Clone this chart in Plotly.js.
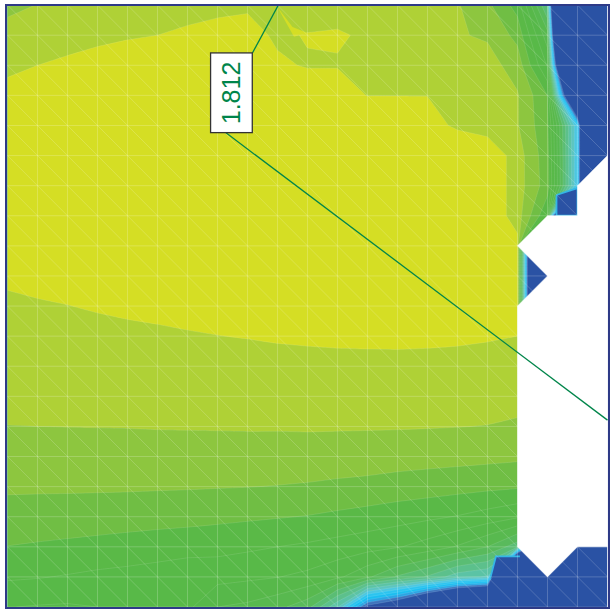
<!DOCTYPE html>
<html>
<head>
<meta charset="utf-8">
<script src="https://cdn.plot.ly/plotly-3.0.1.min.js"></script>
<style>html,body{margin:0;padding:0;background:#fff}#chart{width:610px;height:609px}</style>
</head>
<body>
<div id="chart"></div>
<script>
var gridIndex = [0,1,2,3,4,5,6,7,8,9,10,11,12,13,14,15,16,17,18,19,20];
var row00 = [1.68,1.715,1.72,1.74,1.75,1.77,1.785,1.795,1.805,1.80,1.78,1.80,1.76,1.75,1.74,1.72,1.635,1.47,0.9,-6,-6];
var row01 = [1.76,1.77,1.785,1.795,1.805,1.812,1.825,1.835,1.83,1.804,1.815,1.815,1.808,1.78,1.76,1.72,1.70,1.58,1.15,-5,-5];
var row02 = [1.80,1.812,1.825,1.84,1.85,1.86,1.865,1.87,1.87,1.82,1.808,1.81,1.80,1.78,1.77,1.76,1.75,1.67,1.30,-3,-5];
var row03 = [1.83,1.84,1.85,1.855,1.86,1.87,1.875,1.875,1.875,1.875,1.85,1.83,1.811,1.811,1.811,1.79,1.76,1.72,1.51,-1,-5];
var row04 = [1.85,1.855,1.86,1.865,1.87,1.875,1.88,1.88,1.885,1.885,1.88,1.87,1.86,1.855,1.84,1.80,1.76,1.72,1.53,0.5,-5];
var row05 = [1.86,1.865,1.87,1.875,1.88,1.885,1.89,1.89,1.89,1.89,1.89,1.89,1.885,1.885,1.88,1.88,1.90,1.76,1.55,0.5,-5];
var row06 = [1.87,1.87,1.875,1.88,1.885,1.89,1.895,1.895,1.90,1.90,1.90,1.90,1.90,1.90,1.895,1.895,1.90,1.76,1.56,0.5,-5];
var row07 = [1.865,1.87,1.875,1.88,1.885,1.89,1.895,1.90,1.90,1.905,1.905,1.905,1.905,1.905,1.90,1.90,1.90,1.76,1.42,-5,-5];
var row08 = [1.85,1.855,1.86,1.87,1.875,1.88,1.885,1.89,1.895,1.90,1.905,1.91,1.91,1.91,1.905,1.905,1.90,1.85,-3.4,-5,-5];
var row09 = [1.823,1.83,1.836,1.844,1.85,1.857,1.865,1.871,1.878,1.885,1.891,1.896,1.899,1.90,1.90,1.90,1.90,1.85,-3.4,-5,-5];
var row10 = [1.80,1.806,1.811,1.818,1.824,1.829,1.836,1.841,1.847,1.852,1.857,1.861,1.863,1.864,1.863,1.861,1.855,1.85,-3.4,-5,-5];
var row11 = [1.778,1.782,1.787,1.792,1.797,1.801,1.806,1.811,1.815,1.82,1.823,1.826,1.827,1.828,1.827,1.824,1.819,1.812,-3,-3,-3];
var row12 = [1.756,1.759,1.762,1.766,1.769,1.773,1.777,1.781,1.783,1.787,1.79,1.791,1.792,1.792,1.79,1.788,1.783,1.777,-3,-3,-3];
var row13 = [1.734,1.735,1.737,1.74,1.742,1.745,1.747,1.751,1.752,1.754,1.756,1.756,1.756,1.755,1.753,1.751,1.747,1.741,-3,-3,-3];
var row14 = [1.711,1.712,1.713,1.714,1.715,1.717,1.718,1.719,1.72,1.72,1.722,1.721,1.72,1.719,1.717,1.714,1.71,1.70,-3,-3,-3];
var row15 = [1.669,1.669,1.671,1.67,1.67,1.671,1.671,1.671,1.672,1.67,1.668,1.664,1.661,1.655,1.649,1.644,1.638,1.63,-3,-3,-3];
var row16 = [1.627,1.626,1.626,1.625,1.624,1.622,1.62,1.617,1.614,1.609,1.603,1.593,1.584,1.57,1.56,1.548,1.536,1.525,-3,-3,-3];
var row17 = [1.572,1.569,1.565,1.561,1.556,1.549,1.543,1.535,1.527,1.518,1.508,1.491,1.473,1.453,1.432,1.407,1.37,1.326,-3,-3,-3];
var row18 = [1.51,1.501,1.492,1.482,1.471,1.462,1.454,1.445,1.429,1.412,1.396,1.374,1.35,1.32,1.27,1.203,1.112,0.95,-1,-3,-3];
var row19 = [1.426,1.418,1.405,1.39,1.38,1.364,1.339,1.346,1.331,1.315,1.288,1.232,1.13,1.0,0.9,0.75,0.7,-3,-3,-3,-3];
var row20 = [1.315,1.305,1.30,1.312,1.325,1.33,1.335,1.212,1.19,1.14,1.05,0.72,0.05,-0.16,-0.58,-1,-1.25,-3,-3,-3,-3];
var zRows = [row00,row01,row02,row03,row04,row05,row06,row07,row08,row09,row10,row11,row12,row13,row14,row15,row16,row17,row18,row19,row20];

var bandColors = ['#2a52a4','#3f74bd','#2aa6e4','#1cbef0','#2cc4ef','#4cc7e0','#5cc5c0','#5bc3a5','#5cc08c','#5abd74','#59ba5c','#58b94f','#57b84a','#58b948','#5ab947','#70be44','#8dc63f','#afd136','#d5de24'];
var labelText = '1.812';

var colorscale = bandColors.map(function(c,i){return [i/(bandColors.length-1), c];});

var gridX=[],gridY=[],diagX=[],diagY=[];
gridIndex.forEach(function(k){
  gridX.push(k,k,null); gridY.push(0,20,null);
  gridX.push(0,20,null); gridY.push(k,k,null);
});
gridIndex.forEach(function(a){gridIndex.forEach(function(b){
  if(a<20&&b<20){diagX.push(a,a+1,null);diagY.push(b,b+1,null);}
});});

var holeX=[20,19,19,18,17,18,17,17,18,19,20,20];
var holeY=[5,6,7,7,8,9,10,18,19,18,18,5];
var blockX=[18.3,19,19,18.3,18.3];
var blockY=[6.31,6.08,7,7,6.31];
var cornerX=[16.08,16.28,17.08];
var cornerY=[19.09,18.32,18.32];
var tipX=[9.0,9.5,10,9.55,9.0];
var tipY=[0.07,0.73,0.93,1.05,0.07];
var leaderUpX=[9.12,8.16], leaderUpY=[-0.17,1.6];
var leaderDownX=[7.25,20], leaderDownY=[4.22,13.79];

var traces=[
 {type:'contour',x:gridIndex,y:gridIndex,z:zRows,showscale:false,autocontour:false,zmin:-6,zmax:1.91,
  contours:{coloring:'fill',start:0.112,end:1.8125,size:0.1,showlines:true},
  line:{color:'rgba(255,255,255,0.22)',width:0.5,smoothing:0},colorscale:colorscale,hoverinfo:'skip'},
 {type:'scatter',mode:'lines',x:tipX,y:tipY,fill:'toself',fillcolor:'#d5de24',line:{width:0},hoverinfo:'skip'},
 {type:'scatter',mode:'lines',x:blockX,y:blockY,fill:'toself',fillcolor:'#2a52a4',line:{color:'#34b6e6',width:1.8},hoverinfo:'skip'},
 {type:'scatter',mode:'lines',x:cornerX,y:cornerY,fill:'toself',fillcolor:'#2a52a4',line:{color:'#34b6e6',width:1.8},hoverinfo:'skip'},
 {type:'scatter',mode:'lines',x:gridX,y:gridY,line:{color:'rgba(255,255,255,0.2)',width:1},hoverinfo:'skip'},
 {type:'scatter',mode:'lines',x:diagX,y:diagY,line:{color:'rgba(255,255,255,0.26)',width:0.7},hoverinfo:'skip'},
 {type:'scatter',mode:'lines',x:holeX,y:holeY,fill:'toself',fillcolor:'#ffffff',line:{color:'#ffffff',width:0.5},hoverinfo:'skip'},
 {type:'scatter',mode:'lines',x:leaderUpX,y:leaderUpY,cliponaxis:false,line:{color:'#00854a',width:1.3},hoverinfo:'skip'},
 {type:'scatter',mode:'lines',x:leaderDownX,y:leaderDownY,cliponaxis:false,line:{color:'#00854a',width:1.3},hoverinfo:'skip'}
];
var axisBase={showgrid:false,zeroline:false,showticklabels:false,ticks:'',showline:true,mirror:true,linecolor:'#2e3a87',linewidth:2};
var layout={width:610,height:609,margin:{l:7,r:2,t:6,b:2},showlegend:false,paper_bgcolor:'#fff',plot_bgcolor:'#fff',
 xaxis:Object.assign({range:[-0.0167,20.0167]},axisBase),
 yaxis:Object.assign({range:[20,0.03]},axisBase),
 annotations:[{x:7.47,y:2.91,xref:'x',yref:'y',text:labelText,showarrow:false,textangle:-90,width:78,height:40,
  bgcolor:'#fff',bordercolor:'#333',borderwidth:1.3,borderpad:0,align:'center',valign:'middle',
  font:{family:'Liberation Sans, Arial, sans-serif',size:25,color:'#00854a'}}]};
Plotly.newPlot('chart',traces,layout,{displayModeBar:false,staticPlot:true});
</script>
</body>
</html>
